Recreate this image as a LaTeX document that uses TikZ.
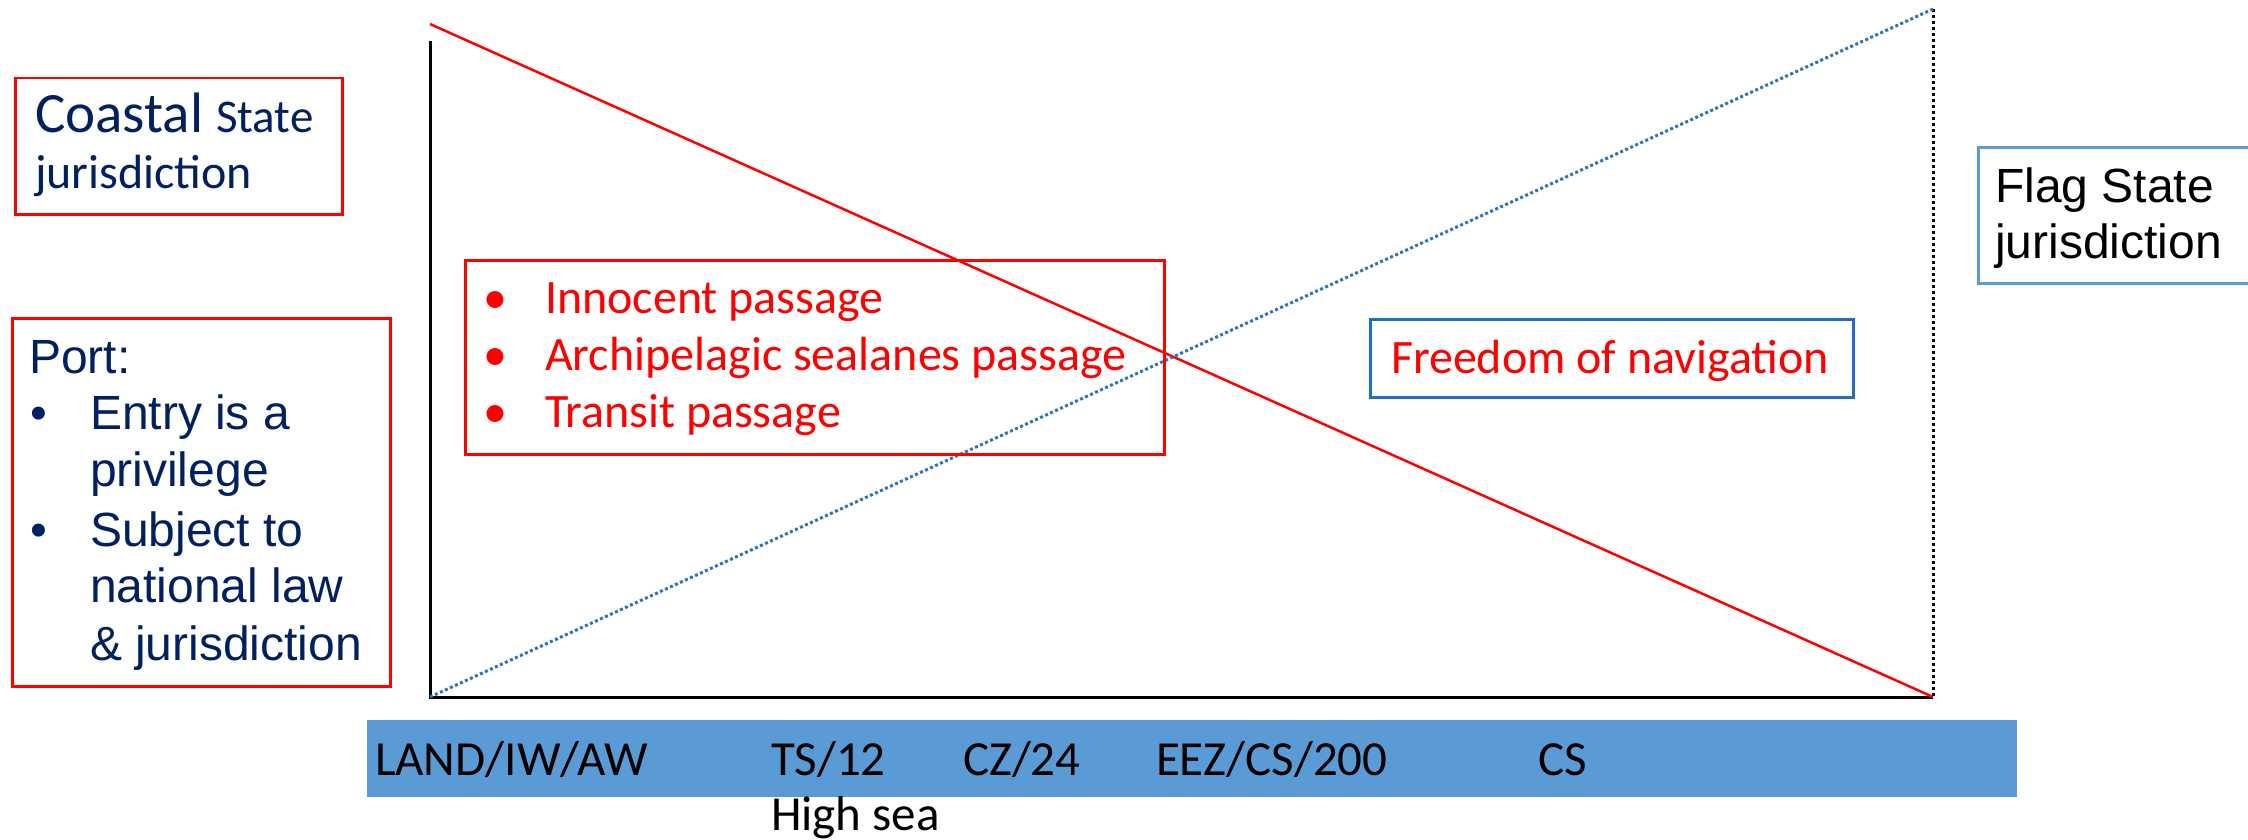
\documentclass[tikz,border=0pt]{standalone}
\usepackage{fontspec}
\setmainfont{Carlito}
\newfontfamily\arialfont{Liberation Sans}
\definecolor{navy}{HTML}{002060}
\definecolor{bandblue}{HTML}{5B9BD5}
\definecolor{lineblue}{HTML}{2E75B6}
\definecolor{frameblue}{HTML}{1F6FC4}
\definecolor{flagblue}{HTML}{5B9BD5}

\tikzset{
  redbox/.style={draw=red, line width=2.5pt},
  txt/.style={anchor=base west, inner sep=0pt, outer sep=0pt},
  big/.style={font=\fontsize{48}{57}\selectfont},
  armed/.style={font=\arialfont\fontsize{48}{57}\selectfont},
  zone/.style={txt, font=\fontsize{49}{57}\selectfont, text=black},
}

\begin{document}
\begin{tikzpicture}[x=1pt, y=-1pt]
\useasboundingbox (0,0) rectangle (2248,840);

% axes and the two crossing jurisdiction lines
\coordinate (O)  at (430,697);
\coordinate (T)  at (430,41);
\coordinate (Lt) at (430,24);
\coordinate (R)  at (1933,697);
\coordinate (Rt) at (1933,9);

\draw[line width=3pt] (T) -- (O) -- (R);
\draw[line width=3pt, dotted, dash pattern=on 3pt off 3pt] (Rt) -- (R);
\draw[red, line width=2.5pt] (Lt) -- (R);
\draw[lineblue, line width=3pt, dash pattern=on 3pt off 2.5pt] (O) -- (Rt);

% coastal state box
\node[redbox, anchor=north west, minimum width=327pt, minimum height=136pt, inner sep=0pt] (coastal) at (14,77) {};
\node[txt, text=navy] (coastalA) at (35,133) {\fontsize{57}{60}\selectfont Coastal \fontsize{47}{57}\selectfont State};
\node[txt, text=navy] (coastalB) at (35,188) {\fontsize{48}{57}\selectfont jurisdiction};

% port box
\node[redbox, anchor=north west, minimum width=378pt, minimum height=368pt, inner sep=0pt] (port) at (11,317) {};
\node[txt, armed, text=navy] (portT) at (29,373) {Port:};
\node[txt, armed, text=navy] (portB1) at (30,429) {•};
\node[txt, armed, text=navy] (port1) at (90,429) {Entry is a};
\node[txt, armed, text=navy] (port2) at (90,486) {privilege};
\node[txt, armed, text=navy] (portB2) at (30,546) {•};
\node[txt, armed, text=navy] (port3) at (90,546) {Subject to};
\node[txt, armed, text=navy] (port4) at (90,602) {national law};
\node[txt, armed, text=navy] (port5) at (90,660) {\& jurisdiction};

% flag state box
\node[draw=flagblue, line width=2.5pt, anchor=north west, minimum width=290pt, minimum height=136pt, inner sep=0pt] (flag) at (1977,146) {};
\node[txt, armed, text=black] (flagA) at (1995,202) {Flag State};
\node[txt, armed, text=black] (flagB) at (1995,258) {jurisdiction};

% passage regimes
\node[redbox, anchor=north west, minimum width=699pt, minimum height=194pt, inner sep=0pt] (passage) at (464,259) {};
\node[txt, big, text=red] (pb1) at (483,313) {•};
\node[txt, big, text=red] (p1) at (545,313) {Innocent passage};
\node[txt, big, text=red] (pb2) at (483,370) {•};
\node[txt, big, text=red] (p2) at (545,370) {Archipelagic sealanes passage};
\node[txt, big, text=red] (pb3) at (483,427) {•};
\node[txt, big, text=red] (p3) at (545,427) {Transit passage};

% freedom of navigation
\node[draw=frameblue, line width=2.5pt, anchor=north west, minimum width=483pt, minimum height=78pt, inner sep=0pt] (freedom) at (1369,318) {};
\node[txt, big, text=red] (freedomT) at (1391,373) {Freedom of navigation};

% maritime zones band
\fill[bandblue] (367,720) rectangle (2017,797);
\node[zone] (land) at (375,775) {LAND/IW/AW};
\node[zone] (ts) at (771,775) {TS/12};
\node[zone] (cz) at (963,775) {CZ/24};
\node[zone] (eez) at (1156,775) {EEZ/CS/200};
\node[zone] (cs) at (1538,775) {CS};
\node[zone] (high) at (771,830) {High sea};
\end{tikzpicture}
\end{document}
